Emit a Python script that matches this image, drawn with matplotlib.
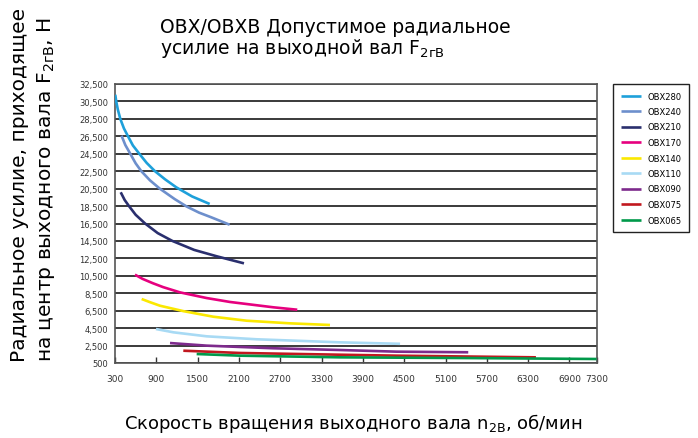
import matplotlib
matplotlib.use("Agg")
import matplotlib.pyplot as plt
from matplotlib.ticker import FuncFormatter

# values (rpm, N)
series_names = ["OBX280", "OBX240", "OBX210", "OBX170", "OBX140",
                "OBX110", "OBX090", "OBX075", "OBX065"]
series_colors = ["#1ea0da", "#6d8fcc", "#2a2f6e", "#e6007e", "#fbe800",
                 "#a8daf4", "#7d2a8c", "#c1181f", "#00994a"]

obx280_n = [304, 318, 340, 377, 430, 489, 560, 653, 760, 880, 1030, 1190, 1420, 1675]
obx280_f = [31270, 30500, 29600, 28500, 27400, 26500, 25450, 24500, 23450, 22500, 21550, 20650, 19600, 18740]

obx240_n = [395, 450, 522, 600, 682, 808, 950, 1167, 1340, 1520, 1698, 1965]
obx240_f = [26570, 25500, 24500, 23400, 22500, 21450, 20500, 19300, 18450, 17750, 17210, 16360]

obx210_n = [383, 440, 503, 600, 737, 920, 1133, 1450, 1777, 2173]
obx210_f = [20080, 19200, 18500, 17500, 16500, 15400, 14500, 13470, 12740, 11930]

obx170_n = [590, 700, 850, 1000, 1244, 1631, 1970, 2598, 2947]
obx170_f = [10630, 10150, 9650, 9200, 8600, 7950, 7500, 6890, 6610]

obx140_n = [687, 800, 953, 1292, 1727, 2212, 2841, 3422]
obx140_f = [7840, 7500, 7070, 6450, 5810, 5350, 5050, 4860]

obx110_n = [895, 1147, 1631, 2357, 3567, 4440]
obx110_f = [4400, 4020, 3560, 3220, 2870, 2700]

obx090_n = [1099, 1631, 2598, 3567, 4390, 5430]
obx090_f = [2790, 2490, 2190, 1990, 1800, 1730]

obx075_n = [1292, 2115, 3567, 4390, 6413]
obx075_f = [1910, 1650, 1450, 1340, 1150]

obx065_n = [1486, 2115, 3567, 5357, 7294]
obx065_f = [1530, 1340, 1150, 1070, 960]

series_n = [obx280_n, obx240_n, obx210_n, obx170_n, obx140_n,
            obx110_n, obx090_n, obx075_n, obx065_n]
series_f = [obx280_f, obx240_f, obx210_f, obx170_f, obx140_f,
            obx110_f, obx090_f, obx075_f, obx065_f]

x_ticks = [300, 900, 1500, 2100, 2700, 3300, 3900, 4500, 5100, 5700, 6300, 6900, 7300]
y_ticks = list(range(500, 32501, 2000))

W, H = 698, 439
fig = plt.figure(figsize=(W / 100, H / 100), dpi=100)
ax = fig.add_axes([115 / W, 1 - 364 / H, (597 - 115) / W, (364 - 85) / H])

for n, f, name, c in zip(series_n, series_f, series_names, series_colors):
    ax.plot(n, f, color=c, lw=1.9, label=name, solid_capstyle="butt",
            solid_joinstyle="round", zorder=3)

ax.set_xlim(300, 7300)
ax.set_ylim(500, 32500)
ax.set_xticks(x_ticks)
ax.set_yticks(y_ticks)
ax.yaxis.set_major_formatter(FuncFormatter(lambda v, p: f"{int(v):,}"))
ax.yaxis.grid(True, color="#3a3a3a", lw=1.4)
ax.tick_params(axis="x", direction="in", length=4, width=1, color="#333333",
               labelsize=6.5, labelcolor="#333333", pad=8)
ax.tick_params(axis="y", length=0, labelsize=6, labelcolor="#333333", pad=5)
for s in ax.spines.values():
    s.set_color("#555555")
    s.set_linewidth(1.2)

leg = ax.legend(loc="upper left", bbox_to_anchor=(613 / W, 1 - 85 / H),
                bbox_transform=fig.transFigure, borderaxespad=0, fontsize=6,
                handlelength=2.4, labelspacing=0.78, fancybox=False,
                edgecolor="#222222", framealpha=1, borderpad=0.9)
leg.get_frame().set_linewidth(1.0)

fig.text(160 / W, 1 - 33 / H, "OBX/OBXB Допустимое радиальное",
         fontsize=13.5, va="baseline", ha="left")
fig.text(160 / W, 1 - 54 / H, r"усилие на выходной вал $\mathregular{F_{2гВ}}$",
         fontsize=13.5, va="baseline", ha="left")

fig.text(20 / W, 1 - 362 / H, "Радиальное усилие, приходящее",
         fontsize=14.5, rotation=90, ha="center", va="bottom")
fig.text(46 / W, 1 - 362 / H, r"на центр выходного вала $\mathregular{F_{2гВ}}$, Н",
         fontsize=14.5, rotation=90, ha="center", va="bottom")

fig.text(353 / W, 1 - 424 / H, r"Скорость вращения выходного вала $\mathregular{n_{2В}}$, об/мин",
         fontsize=13, ha="center", va="center")

fig.savefig("out.png", dpi=100)
